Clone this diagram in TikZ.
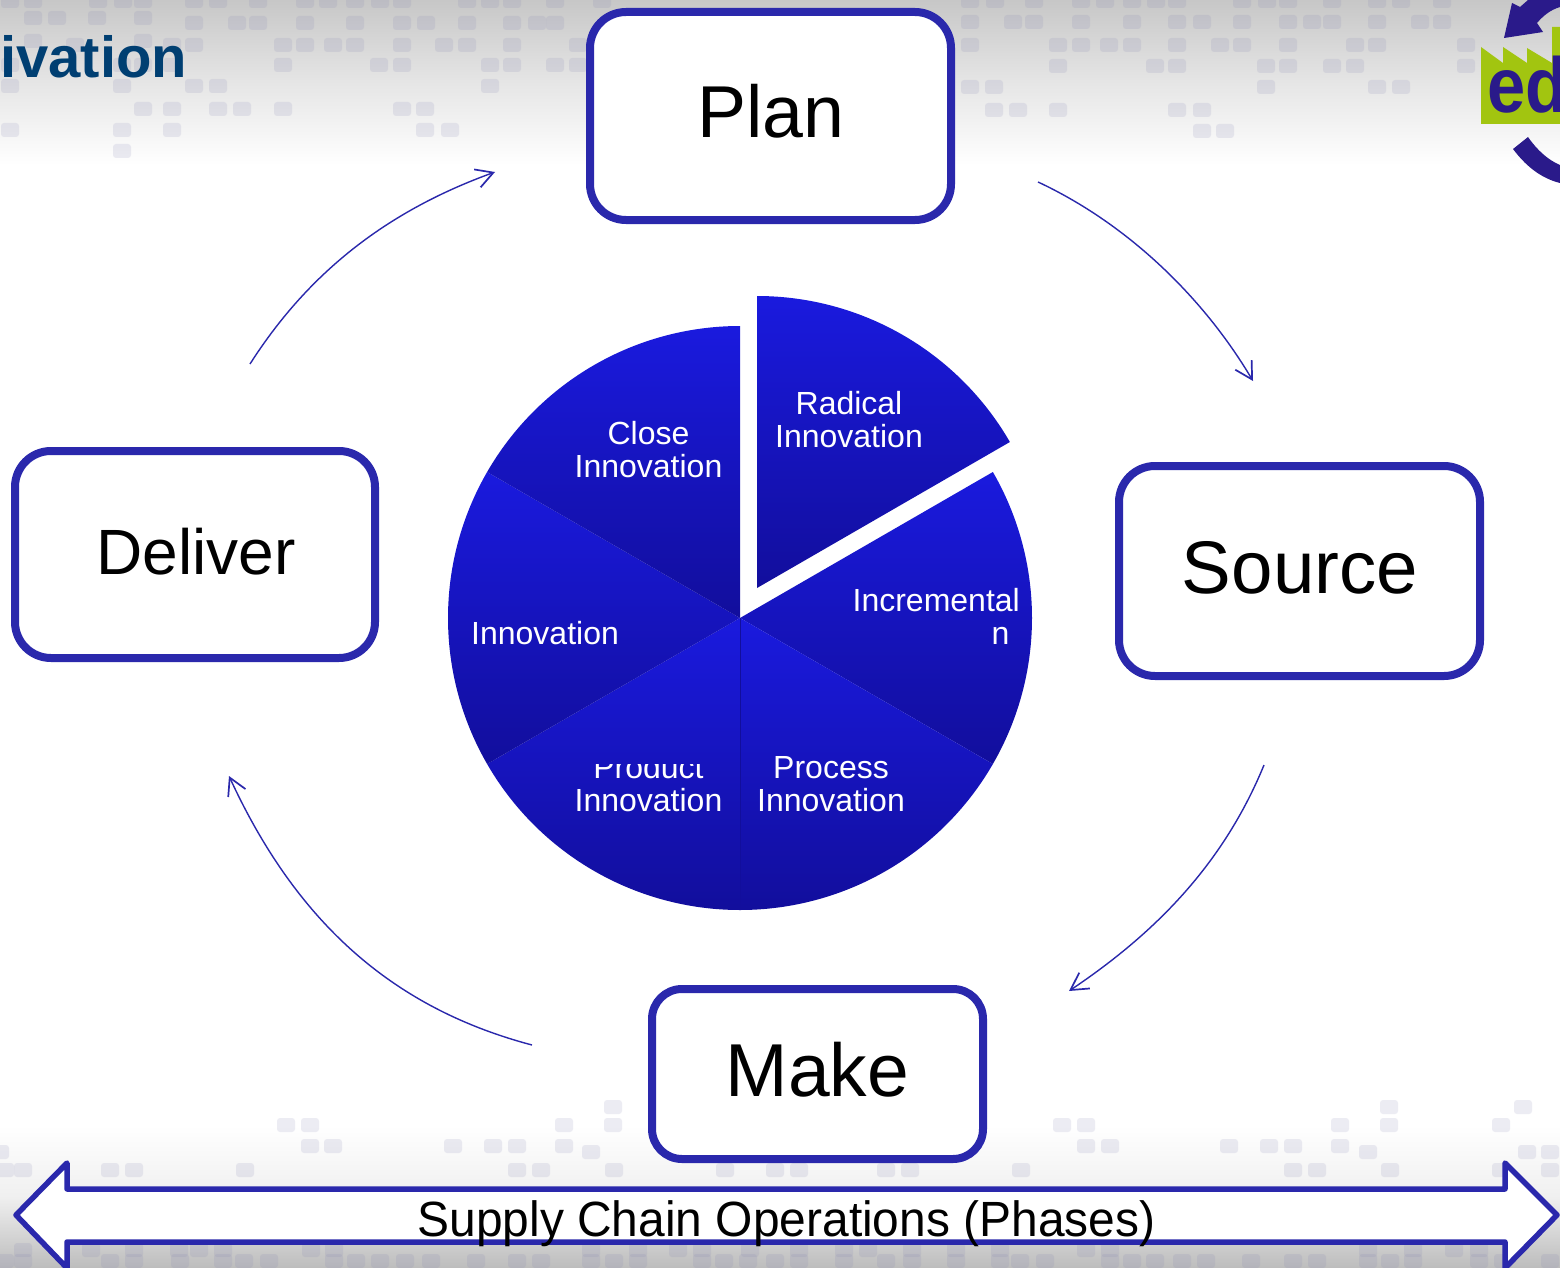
\documentclass[tikz,border=0pt]{standalone}
\usepackage{fontspec}
\setmainfont{Liberation Sans}
\usetikzlibrary{arrows.meta}
\definecolor{boxblue}{HTML}{2A28AC}
\definecolor{pietop}{HTML}{1A1ADE}
\definecolor{piebot}{HTML}{120E9C}
\definecolor{titleblue}{HTML}{003F72}
\definecolor{logonavy}{HTML}{2A1A8A}
\definecolor{logogreen}{HTML}{A2C510}
\definecolor{patch}{HTML}{8080B0}
\newcommand{\fsz}[1]{\fontsize{#1pt}{#1pt}\selectfont}
\newcommand{\piewedge}[4]{\path[top color=pietop,bottom color=piebot] (#1,#2) -- ++(-#3:292) arc[start angle=-#3,end angle=-#4,radius=292] -- cycle;}
\tikzset{
  phasebox/.style={draw=boxblue,line width=8pt,fill=white,rounded corners=36pt,inner sep=0pt},
  phaselabel/.style={anchor=base,text=black,inner sep=0pt,font=\fsz{73.5}},
  pielabel/.style={anchor=base,text=white,inner sep=0pt,align=center,font=\fontsize{32pt}{33.5pt}\selectfont},
  flow/.style={draw=boxblue,line width=1.4pt,-{Straight Barb[length=17pt,width=19pt,line width=1.7pt]}},
  patchrect/.style={fill=patch,fill opacity=.15,rounded corners=3pt}
}
\newcommand{\patches}[2]{\foreach \px in {#2}{\path[patchrect] (\px-9,#1-7) rectangle (\px+9,#1+7);}}
\begin{document}
\begin{tikzpicture}[x=1pt,y=-1pt]
\useasboundingbox (0,0) rectangle (1560,1268);
\clip (0,0) rectangle (1560,1268);
\fill[white] (0,0) rectangle (1560,1268);
% background
\path[top color=black!22,bottom color=white,middle color=black!10] (0,0) rectangle (1560,165);
\path[top color=white,bottom color=black!26,middle color=black!6] (0,1125) rectangle (1560,1268);
% top left and middle patches
\patches{1}{10,33,98,123,143,194,218,258,305,328,355,380,402,467,490,512,555,602}
\patches{18}{33,57,97,143}
\patches{23}{194,237,258,305,355,402,426,467,512,537,555}
\patches{45}{75,172,194,283,305,333,355,402,444,467,512,578}
\patches{41}{33,143}
\patches{65}{10,122,143,172,283,379,402,490,512,555,578}
\patches{86}{10,122,194,218,490}
\patches{109}{143,172,218,242,283,402,425}
\patches{130}{10,122,172,425,450}
\patches{151}{122}
% top right patches
\patches{1}{970,995,1034,1081,1105,1132,1156,1177,1242,1267,1288,1332,1377,1401,1442}
\patches{22}{970,1013,1034,1081,1132,1177,1202,1242,1288,1312,1332,1377,1420,1442}
\patches{45}{970,1058,1081,1109,1132,1177,1220,1242,1288,1355,1377,1466}
\patches{66}{1058,1155,1177,1266,1288,1332,1355,1466}
\patches{87}{970,994,1266,1377,1401}
\patches{110}{994,1018,1058,1177,1202}
\patches{131}{1202,1225}
% bottom patches
\patches{1107}{613,1389,1523}
\patches{1125}{286,310,564,613,1062,1086,1340,1389,1501}
\patches{1146}{310,333,453,493,517,564,1086,1110,1229,1269,1293,1340}
\patches{1152}{0,591,1368,1527,1550}
\patches{1170}{5,23,110,134,245,517,541,614,725,775,799,886,910,1021,1293,1317,1390,1501,1550}
\patches{1250}{23,91,134,179,199,223,311,334,591,638,678,702,750,799,844,868,912,956,1000,1086,1110,1368,1413,1454,1479}
\patches{1261}{5,23,110,134,180,223,244,269,334,356,380,405,431,476,517,541,591,614,638,702,724,748,775,799,844,886,912,956,1000,1020,1045,1110,1132,1155,1182,1206,1251,1293,1317,1368,1390,1413,1479,1503,1550}
% title fragment
\node[anchor=base west,inner sep=0pt,text=titleblue,font=\bfseries\fsz{58}] (title) at (0,78) {ivation};
% logo
\fill[logogreen] (1481,47) -- (1503,63) -- (1503,47) -- (1527,63) -- (1527,48) -- (1552,63) -- (1552,27) -- (1560,27) -- (1560,124) -- (1481,124) -- cycle;
\node[anchor=base west,inner sep=0pt,text=logonavy,font=\bfseries\fsz{78},xscale=.88,transform shape] (logotext) at (1487,113) {ed};
\fill[logonavy] (1504,38) -- (1512,3) -- (1520,7) -- (1528,0) -- (1560,0) -- (1560,7) .. controls (1550,10) and (1543,16) .. (1537,23) -- (1543,32) -- cycle;
\fill[logonavy] (1513,149) -- (1528,137) .. controls (1537,150) and (1548,160) .. (1560,165) -- (1560,183) .. controls (1540,178) and (1525,165) .. (1513,149) -- cycle;
% pie
\piewedge{757}{588}{30}{90}
\piewedge{740}{618}{-30}{30}
\piewedge{740}{618}{-90}{-30}
\piewedge{740}{618}{-150}{-90}
\piewedge{740}{618}{150}{210}
\piewedge{740}{618}{90}{150}
\draw[piebot,line width=.8pt] (740,618) -- (740,910);
\node[pielabel] (radical) at (849,447) {Innovation};
\node[pielabel] (radicalb) at (849,414) {Radical};
\node[pielabel] (close) at (648.5,477) {Innovation};
\node[pielabel] (closeb) at (648.5,444) {Close};
\node[pielabel,anchor=base east] (incr) at (1020,611) {Incremental};
\node[pielabel,anchor=base east] (incrb) at (1009.5,644) {n};
\node[pielabel,anchor=base west] (innov) at (471,644) {Innovation};
\node[pielabel] (process) at (831,811) {Innovation};
\node[pielabel] (processb) at (831,778) {Process};
\node[pielabel] (product) at (648.5,811) {Innovation};
\begin{scope}
\clip (500,764) rectangle (735,800);
\node[pielabel] (productb) at (648.5,778) {Product};
\end{scope}
% phase boxes
\node[phasebox,minimum width=361pt,minimum height=208pt] (plan) at (770.5,116) {};
\node[phasebox,minimum width=360pt,minimum height=207pt] (deliver) at (195,554.5) {};
\node[phasebox,minimum width=361pt,minimum height=210pt] (source) at (1299.5,571) {};
\node[phasebox,rounded corners=30pt,minimum width=331pt,minimum height=170pt] (make) at (817.5,1074) {};
\node[phaselabel] (planlabel) at (771,138) {Plan};
\node[phaselabel,font=\fsz{64}] (deliverlabel) at (196,574) {Deliver};
\node[phaselabel,font=\fsz{74.5}] (sourcelabel) at (1300,593) {Source};
\node[phaselabel,font=\fsz{75}] (makelabel) at (817.5,1096) {Make};
% cycle arrows
\coordinate (a1) at (1038,182); \coordinate (a2) at (1253,381);
\coordinate (b1) at (1264,765); \coordinate (b2) at (1069,991);
\coordinate (c1) at (532,1045); \coordinate (c2) at (229,776);
\coordinate (d1) at (250,364); \coordinate (d2) at (495,172);
\draw[flow] (a1) .. controls (1130,225) and (1205,300) .. (a2);
\draw[flow] (b1) .. controls (1225,860) and (1160,930) .. (b2);
\draw[flow] (c1) .. controls (400,1010) and (300,930) .. (c2);
\draw[flow] (d1) .. controls (310,270) and (390,210) .. (d2);
% bottom double arrow
\draw[boxblue,line width=5.5pt,fill=white,line join=round] (16,1215) -- (67,1163) -- (67,1189) -- (1505,1189) -- (1505,1163) -- (1557,1215) -- (1505,1268) -- (1505,1242) -- (67,1242) -- (67,1268) -- cycle;
\node[anchor=base,inner sep=0pt,text=black,font=\fsz{49.5},xscale=.968,transform shape] (phases) at (786.5,1236) {Supply Chain Operations (Phases)};
\end{tikzpicture}
\end{document}
